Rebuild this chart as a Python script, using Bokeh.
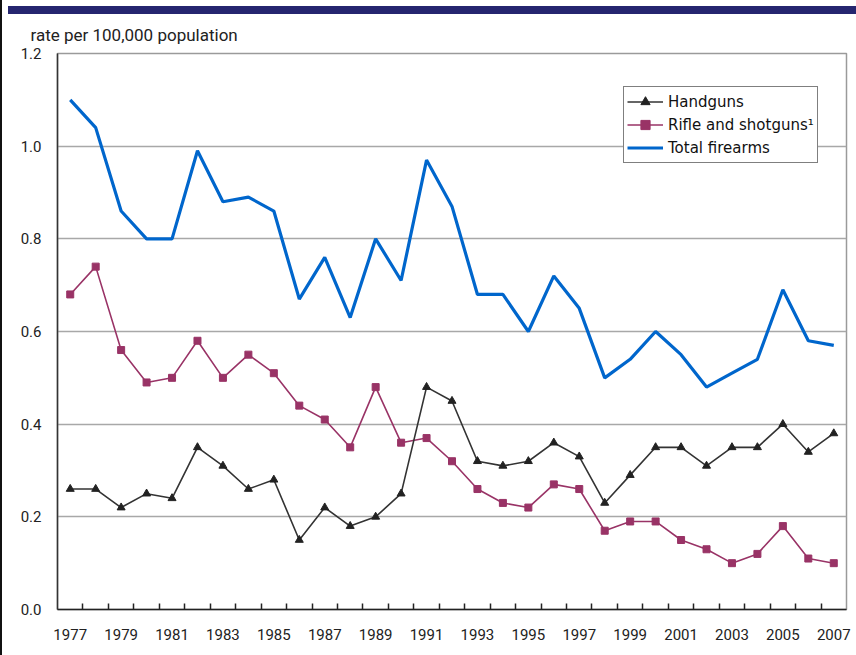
from bokeh.plotting import figure
from bokeh.layouts import row, column
from bokeh.models import (Legend, LegendItem, FixedTicker, PrintfTickFormatter,
                          Range1d, Div)
from bokeh.embed import file_html
from bokeh.resources import INLINE

years = list(range(1977, 2008))
handguns = [0.26, 0.26, 0.22, 0.25, 0.24, 0.35, 0.31, 0.26, 0.28, 0.15,
            0.22, 0.18, 0.20, 0.25, 0.48, 0.45, 0.32, 0.31, 0.32, 0.36,
            0.33, 0.23, 0.29, 0.35, 0.35, 0.31, 0.35, 0.35, 0.40, 0.34, 0.38]
rifles = [0.68, 0.74, 0.56, 0.49, 0.50, 0.58, 0.50, 0.55, 0.51, 0.44,
          0.41, 0.35, 0.48, 0.36, 0.37, 0.32, 0.26, 0.23, 0.22, 0.27,
          0.26, 0.17, 0.19, 0.19, 0.15, 0.13, 0.10, 0.12, 0.18, 0.11, 0.10]
total = [1.10, 1.04, 0.86, 0.80, 0.80, 0.99, 0.88, 0.89, 0.86, 0.67,
         0.76, 0.63, 0.80, 0.71, 0.97, 0.87, 0.68, 0.68, 0.60, 0.72,
         0.65, 0.50, 0.54, 0.60, 0.55, 0.48, 0.51, 0.54, 0.69, 0.58, 0.57]
x_tick_years = list(range(1977, 2008, 2))
y_ticks = [0.0, 0.2, 0.4, 0.6, 0.8, 1.0, 1.2]
y_title = "rate per 100,000 population"
labels = ["Handguns", "Rifle and shotguns\u00b9", "Total firearms"]

X0, X1 = 1976.5, 2007.5
Y0, Y1 = 0.0, 1.2
W, H = 854, 641
ML, MR, MT, MB = 55, 10, 38, 46

p = figure(width=W, height=H, output_backend="svg", toolbar_location=None,
           x_range=Range1d(X0, X1), y_range=Range1d(Y0, Y1),
           min_border_left=ML, min_border_right=MR,
           min_border_top=MT, min_border_bottom=MB, margin=0)
p.background_fill_color = "white"
p.border_fill_color = "white"
p.outline_line_color = "#9a9a9a"
p.outline_line_width = 1.5

p.title.text = y_title
p.title.align = "left"
p.title.offset = -27
p.title.standoff = 17
p.title.text_font = "Roboto"
p.title.text_font_size = "17px"
p.title.text_font_style = "normal"
p.title.text_color = "#222222"

p.xgrid.visible = False
p.ygrid.ticker = FixedTicker(ticks=y_ticks[1:-1])
p.ygrid.grid_line_color = "#a8a8a8"
p.ygrid.grid_line_width = 1.5

tick_font = "Roboto"
xa = p.xaxis[0]
xa.ticker = FixedTicker(ticks=x_tick_years, minor_ticks=[y + 0.5 for y in years[:-1]])
xa.major_tick_line_color = None
xa.minor_tick_in = 6
xa.minor_tick_out = 0
xa.minor_tick_line_color = "#222222"
xa.minor_tick_line_width = 1.5
xa.axis_line_color = "#222222"
xa.axis_line_width = 1.5
xa.major_label_standoff = 13
xa.major_label_text_font = tick_font
xa.major_label_text_font_size = "15px"
xa.major_label_text_color = "#222222"

ya = p.yaxis[0]
ya.ticker = FixedTicker(ticks=y_ticks)
ya.formatter = PrintfTickFormatter(format="%.1f")
ya.major_tick_line_color = None
ya.minor_tick_line_color = None
ya.axis_line_color = "#333333"
ya.axis_line_width = 1.5
ya.major_label_standoff = 10
ya.major_label_text_font = tick_font
ya.major_label_text_font_size = "15px"
ya.major_label_text_color = "#222222"

# series
r_tot = p.line(years, total, line_color="#0066cc", line_width=3.2)
r_rl = p.line(years, rifles, line_color="#993366", line_width=1.6)
r_rm = p.scatter(years, rifles, marker="square", size=7, fill_color="#993366",
                 line_color="#993366")
r_hl = p.line(years, handguns, line_color="#333333", line_width=1.6)
r_hm = p.scatter(years, handguns, marker="triangle", size=8, fill_color="#222222",
                 line_color="#222222")

legend = Legend(items=[LegendItem(label=labels[0], renderers=[r_hl, r_hm]),
                       LegendItem(label=labels[1], renderers=[r_rl, r_rm]),
                       LegendItem(label=labels[2], renderers=[r_tot])],
                location=(566, 446))
legend.border_line_color = "black"
legend.border_line_width = 1.2
legend.background_fill_color = "white"
legend.background_fill_alpha = 1
legend.label_text_font = "DejaVu Sans"
legend.label_text_font_size = "15px"
legend.label_text_color = "#111111"
legend.glyph_width = 36
legend.glyph_height = 23
legend.label_height = 23
legend.label_standoff = 5
legend.spacing = 0
legend.padding = 3
legend.margin = 0
p.add_layout(legend, "center")

left_rule = Div(width=2, height=655, margin=0,
                styles={"background-color": "#111111"})
top_band = Div(width=848, height=8, margin=(6, 0, 0, 6),
               styles={"background-color": "#25256f"})
layout = row(left_rule, column(top_band, p, spacing=0, margin=0), spacing=0, margin=0)

open("out.html", "w").write(file_html(layout, INLINE))
